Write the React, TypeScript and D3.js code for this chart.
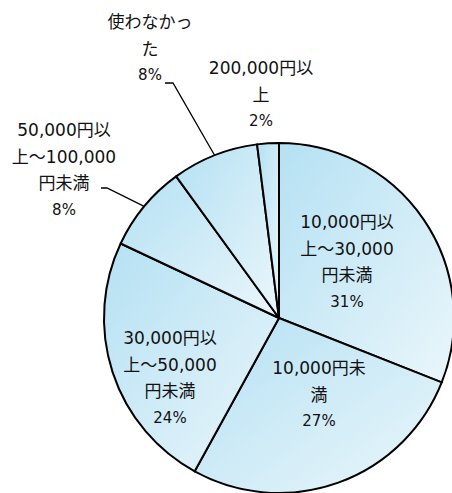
import React from "react";
import * as d3 from "d3";

const categories = [
  ["10,000円以", "上～30,000", "円未満"],
  ["10,000円未", "満"],
  ["30,000円以", "上～50,000", "円未満"],
  ["50,000円以", "上～100,000", "円未満"],
  ["使わなかっ", "た"],
  ["200,000円以", "上"],
];
const values = [31, 27, 24, 8, 8, 2];
const percentLabels = ["31%", "27%", "24%", "8%", "8%", "2%"];

// label block layout: [centerX, firstLineY]
const labelLayout = [
  { x: 347, y: 222 },
  { x: 319, y: 368 },
  { x: 170, y: 338 },
  { x: 64, y: 130 },
  { x: 150, y: 22 },
  { x: 261, y: 68 },
];
const leaders: Record<number, { start: [number, number]; bend: [number, number] }> = {
  3: { start: [101, 188], bend: [107, 188] },
  4: { start: [165, 83], bend: [173, 83] },
};

const W = 452;
const H = 493;
const cx = 279;
const cy = 318;
const R = 175;
const LH = 26.7;

export default function App() {
  const pie = d3.pie<number>().sort(null).value((d) => d)(values);
  const arc = d3.arc<d3.PieArcDatum<number>>().innerRadius(0).outerRadius(R);

  return (
    <svg
      width={W}
      height={H}
      style={{ position: "absolute", left: 0, top: 0, display: "block" }}
      fontFamily="'DejaVu Sans', 'Noto Sans CJK JP', sans-serif"
    >
      <defs>
        <linearGradient id="sliceGrad" x1="0" y1="0" x2="1" y2="1">
          <stop offset="0" stopColor="#b5e1f3" />
          <stop offset="1" stopColor="#eaf6fb" />
        </linearGradient>
      </defs>
      <g transform={`translate(${cx},${cy})`}>
        {pie.map((p, i) => (
          <path key={i} d={arc(p) || ""} fill="url(#sliceGrad)" stroke="#000" strokeWidth={2} strokeLinejoin="round" />
        ))}
      </g>
      {pie.map((p, i) => {
        const L = leaders[i];
        if (!L) return null;
        const a = (p.startAngle + p.endAngle) / 2;
        const ex = cx + R * Math.sin(a);
        const ey = cy - R * Math.cos(a);
        return (
          <polyline
            key={"l" + i}
            points={`${L.start[0]},${L.start[1]} ${L.bend[0]},${L.bend[1]} ${ex},${ey}`}
            fill="none"
            stroke="#000"
            strokeWidth={1.3}
          />
        );
      })}
      {categories.map((lines, i) => {
        const all = [...lines, percentLabels[i]];
        const pos = labelLayout[i];
        return (
          <text key={"t" + i} fontSize={17} fill="#111" textAnchor="middle" dominantBaseline="central">
            {all.map((s, j) => (
              <tspan key={j} x={pos.x} y={pos.y + j * LH} fontSize={j === all.length - 1 ? 15 : 17}>
                {s}
              </tspan>
            ))}
          </text>
        );
      })}
    </svg>
  );
}
